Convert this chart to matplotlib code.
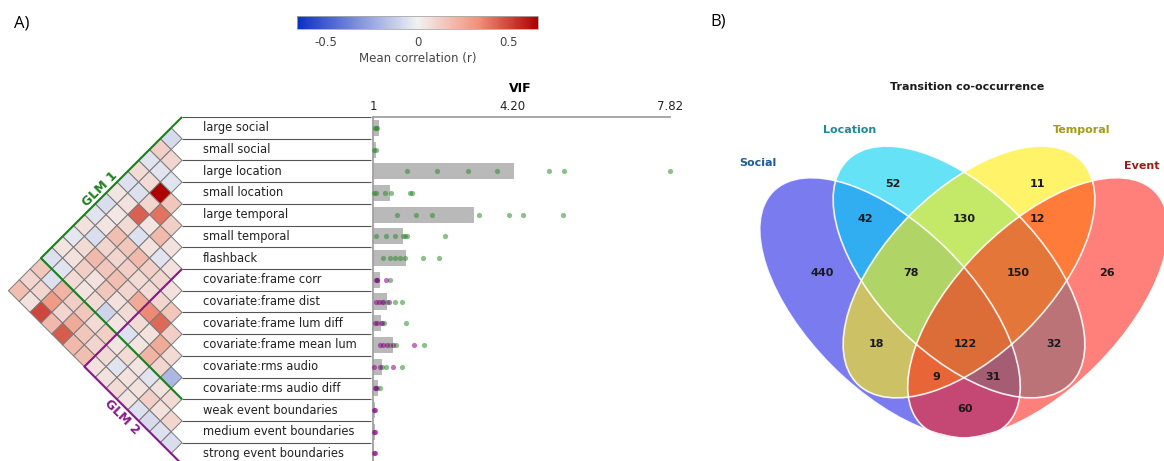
"""
Panel A: regressor correlation triangle + VIF per regressor.
Panel B: four-way Venn of transition co-occurrence.
"""
import matplotlib
matplotlib.use("Agg")
import matplotlib.pyplot as plt
import numpy as np
from matplotlib.collections import PolyCollection
from matplotlib.colors import LinearSegmentedColormap, Normalize
from matplotlib.cm import ScalarMappable
from matplotlib.patches import Ellipse

OUTPUT = "out.png"
W, H = 1164, 461
ROW = 21.7          # px per regressor row in panel A

GREEN  = "#1f7f1f"
PURPLE = "#861a86"

REGRESSORS = [
    "large social", "small social", "large location", "small location",
    "large temporal", "small temporal", "flashback",
    "covariate:frame corr", "covariate:frame dist", "covariate:frame lum diff",
    "covariate:frame mean lum", "covariate:rms audio", "covariate:rms audio diff",
    "weak event boundaries", "medium event boundaries", "strong event boundaries",
]
GLM1_END = 13       # regressors 0..12
GLM2_START = 7      # regressors 7..15

# mean correlation, row i holds r(i, j) for j > i
CORR_ROWS = [
    [-0.08, 0.12, -0.05, 0.08, -0.06, 0.05, -0.07, -0.05, 0.06, -0.04, 0.05, -0.06, 0.15, 0.10, 0.18],
    [0.10, -0.05, 0.08, -0.06, 0.06, 0.04, 0.05, -0.07, 0.08, 0.06, -0.05, -0.06, 0.10, 0.06],
    [-0.05, 0.66, 0.10, 0.44, 0.08, 0.18, 0.10, 0.20, 0.12, 0.08, 0.22, 0.30, 0.50],
    [0.15, 0.40, 0.05, -0.06, 0.15, 0.10, 0.15, 0.06, 0.05, 0.12, 0.10, 0.20],
    [0.12, 0.20, 0.06, 0.20, 0.12, 0.18, 0.15, 0.08, 0.15, 0.25, 0.45],
    [0.06, -0.05, 0.12, 0.08, 0.10, 0.06, -0.10, 0.08, 0.15, 0.20],
    [0.06, 0.10, 0.08, 0.25, 0.08, 0.05, 0.12, 0.10, 0.18],
    [0.06, 0.10, 0.35, 0.08, -0.06, 0.05, 0.08, 0.06],
    [0.15, 0.42, 0.06, 0.05, 0.08, -0.05, 0.06],
    [0.12, 0.25, 0.22, 0.05, 0.06, 0.08],
    [0.08, 0.10, -0.05, 0.06, 0.05],
    [-0.20, 0.06, 0.12, -0.06],
    [0.08, 0.06, -0.08],
    [0.10, -0.06],
    [-0.07],
]

VIF_MEAN = [1.14, 1.08, 4.23, 1.38, 3.33, 1.70, 1.75, 1.16,
            1.31, 1.19, 1.45, 1.21, 1.11, 1.04, 1.04, 1.03]
VIF_GLM1 = [
    [1.04, 1.07, 1.10],
    [1.03, 1.06],
    [1.79, 2.46, 3.17, 3.84, 5.03, 5.38, 7.82],
    [1.03, 1.06, 1.27, 1.42, 1.84, 1.90],
    [1.56, 1.98, 2.36, 3.44, 4.13, 4.44, 5.36],
    [1.08, 1.29, 1.50, 1.68, 1.74, 1.78, 2.65],
    [1.23, 1.38, 1.50, 1.61, 1.73, 2.14, 2.52],
    [1.10, 1.38],
    [1.20, 1.32, 1.50, 1.67],
    [1.18, 1.26, 1.75],
    [1.40, 1.52, 2.17],
    [1.20, 1.29, 1.67],
    [1.10, 1.16],
]
VIF_GLM2 = [
    [1.06, 1.10, 1.30],
    [1.06, 1.14, 1.24, 1.36],
    [1.05, 1.10, 1.20],
    [1.15, 1.24, 1.31, 1.45, 1.94],
    [1.03, 1.15, 1.46],
    [1.04, 1.08],
    [1.03, 1.05],
    [1.03, 1.05],
    [1.02, 1.04],
]
VIF_TICKS = [1, 4.20, 7.82]

VENN_NAMES = ["Social", "Location", "Temporal", "Event"]
VENN_REGIONS = ["1000", "0100", "0010", "0001", "1100", "0110", "0011",
                "1110", "0111", "1010", "1111", "0101", "1011", "1101", "1001"]
VENN_COUNTS = [440, 52, 11, 26, 42, 130, 12, 78, 150, 18, 122, 32, 9, 31, 60]

# layout of panel B (pixel coords): cx, cy, semi-major, semi-minor, angle
ELLIPSES = [(890, 308, 165, 82, 45), (959, 272, 158, 82, 45),
            (969, 272, 158, 82, -45), (1038, 308, 165, 82, -45)]
FILLS = [((35, 35, 230), 0.60), ((0, 208, 242), 0.60),
         ((255, 237, 15), 0.62), ((255, 32, 22), 0.57)]
NAME_POS = [(758, 163), (850, 130), (1082, 130), (1142, 166)]
NAME_COLORS = ["#1d5a96", "#1c8a99", "#a39b1b", "#9b1b1b"]
COUNT_POS = {
    "1000": (822, 273), "0100": (893, 184), "0010": (1037, 184), "0001": (1107, 273),
    "1100": (865, 219), "0110": (964, 219), "0011": (1037, 219),
    "1110": (911, 273), "0111": (1018, 273),
    "1010": (876, 344), "1111": (965, 344), "0101": (1054, 344),
    "1011": (936, 377), "1101": (993, 377), "1001": (965, 409),
}

CMAP = LinearSegmentedColormap.from_list(
    "corr", [(0, "#0b2fc2"), (0.5, "#f2f2f2"), (0.75, "#f0937c"), (1, "#ad0000")])
NORM = Normalize(-0.66, 0.66)


def px_axes(fig, x0, y0, x1, y1):
    return fig.add_axes([x0 / W, 1 - y1 / H, (x1 - x0) / W, (y1 - y0) / H])


def draw():
    fig = plt.figure(figsize=(W / 100, H / 100), dpi=100)
    fig.patch.set_facecolor("white")

    fig.text(22 / W, 1 - 23 / H, "A)", fontsize=12, family="Open Sans",
             ha="center", va="center")
    fig.text(718 / W, 1 - 22 / H, "B)", fontsize=12, family="Open Sans",
             ha="center", va="center")

    # ── colorbar ───────────────────────────────────────────────
    cax = px_axes(fig, 297, 16, 538, 29)
    cb = fig.colorbar(ScalarMappable(norm=NORM, cmap=CMAP), cax=cax,
                      orientation="horizontal", ticks=[-0.5, 0, 0.5])
    cb.ax.set_xticklabels(["-0.5", "0", "0.5"])
    cb.ax.tick_params(length=0, pad=5, labelsize=8.5, labelcolor="#444444")
    cb.outline.set_edgecolor("#aaaaaa")
    cb.outline.set_linewidth(0.6)
    cb.set_label("Mean correlation (r)", fontsize=8.5, color="#444444", labelpad=2)

    # ── correlation triangle + labels ──────────────────────────
    y_lo = (H - 128) / ROW
    ax = px_axes(fig, 0, 117, 372, H)
    ax.set_xlim(-182 / ROW, 190 / ROW)
    ax.set_ylim(y_lo, -0.5)
    ax.axis("off")

    polys, vals = [], []
    for i, row in enumerate(CORR_ROWS):
        for k, r in enumerate(row):
            j = i + 1 + k
            cx, cy = -(j - i) / 2, (i + j) / 2
            polys.append([(cx - 0.5, cy), (cx, cy - 0.5), (cx + 0.5, cy), (cx, cy + 0.5)])
            vals.append(r)
    pc = PolyCollection(polys, array=np.array(vals), cmap=CMAP, norm=NORM,
                        edgecolors="#7a7a7a", linewidths=0.7, clip_on=False)
    ax.add_collection(pc)

    n = len(REGRESSORS)
    ax.hlines(np.arange(-0.5, n - 1), 0, 190 / ROW - 0.05,
              color="#555555", lw=0.8)
    for k, name in enumerate(REGRESSORS):
        ax.text(0.95, k, name, va="center", ha="left", fontsize=8.3, color="#222222")

    g1 = (GLM1_END - 1) / 2
    ax.plot([0, -g1 - 0.5, 0], [-0.5, g1, GLM1_END - 0.5],
            color=GREEN, lw=1.5, clip_on=False, solid_capstyle="butt")
    g2 = (n - 1 - GLM2_START) / 2
    ax.plot([0, -g2 - 0.5, 0], [GLM2_START - 0.5, GLM2_START + g2, n - 0.5],
            color=PURPLE, lw=1.5, clip_on=False, solid_capstyle="butt")
    ax.text(-3.78, 2.81, "GLM 1", rotation=45, color=GREEN, fontsize=9,
            fontweight="bold", ha="center", va="center")
    ax.text(-2.76, 13.3, "GLM 2", rotation=-45, color=PURPLE, fontsize=9,
            fontweight="bold", ha="center", va="center")

    # ── VIF panel ──────────────────────────────────────────────
    vax = px_axes(fig, 373, 117, 670, H)
    vax.set_xlim(VIF_TICKS[0], VIF_TICKS[-1])
    vax.set_ylim(y_lo, -0.5)
    rows = np.arange(n)
    vax.barh(rows, [v - 1 for v in VIF_MEAN], left=1, height=0.74,
             color="#b9b9b9", zorder=1)
    for k, pts in enumerate(VIF_GLM1):
        vax.scatter(pts, [k] * len(pts), s=14, color="#2e8b2e", alpha=0.55,
                    lw=0, zorder=3, clip_on=False)
    for k, pts in enumerate(VIF_GLM2):
        vax.scatter(pts, [GLM2_START + k] * len(pts), s=14, color="#8b008b",
                    alpha=0.55, lw=0, zorder=3, clip_on=False)
    vax.xaxis.tick_top()
    vax.set_xticks(VIF_TICKS)
    vax.set_xticklabels(["1", "4.20", "7.82"])
    vax.tick_params(axis="x", length=0, pad=3, labelsize=8.5, labelcolor="#222222")
    vax.set_yticks([])
    for side in ("bottom", "right"):
        vax.spines[side].set_visible(False)
    for side in ("top", "left"):
        vax.spines[side].set_color("#a0a0a0")
        vax.spines[side].set_linewidth(1.3)
    vax.patch.set_alpha(0)
    fig.text(520 / W, 1 - 88 / H, "VIF", fontsize=9, fontweight="bold",
             ha="center", va="center")

    # ── Venn ───────────────────────────────────────────────────
    vn = px_axes(fig, 700, 0, W, H)
    vn.set_xlim(700, W)
    vn.set_ylim(H, 0)
    vn.axis("off")
    for (cx, cy, a, b, ang), (rgb, al) in zip(ELLIPSES, FILLS):
        fc = tuple(c / 255 for c in rgb) + (al,)
        vn.add_patch(Ellipse((cx, cy), 2 * a, 2 * b, angle=ang,
                             facecolor=fc, edgecolor="none"))
    for cx, cy, a, b, ang in ELLIPSES:
        vn.add_patch(Ellipse((cx, cy), 2 * a, 2 * b, angle=ang,
                             facecolor="none", edgecolor="white", lw=1.2, alpha=0.9))
    for reg, cnt in zip(VENN_REGIONS, VENN_COUNTS):
        x, y = COUNT_POS[reg]
        vn.text(x, y, str(cnt), ha="center", va="center", fontsize=8,
                fontweight="bold", color="#1a1a1a")
    for name, (x, y), col in zip(VENN_NAMES, NAME_POS, NAME_COLORS):
        vn.text(x, y, name, ha="center", va="center", fontsize=8,
                fontweight="bold", color=col)
    vn.text(967, 87, "Transition co-occurrence", ha="center", va="center",
            fontsize=8, fontweight="bold", color="#1a1a1a")

    fig.savefig(OUTPUT, dpi=100, facecolor="white")
    plt.close(fig)


if __name__ == "__main__":
    draw()
